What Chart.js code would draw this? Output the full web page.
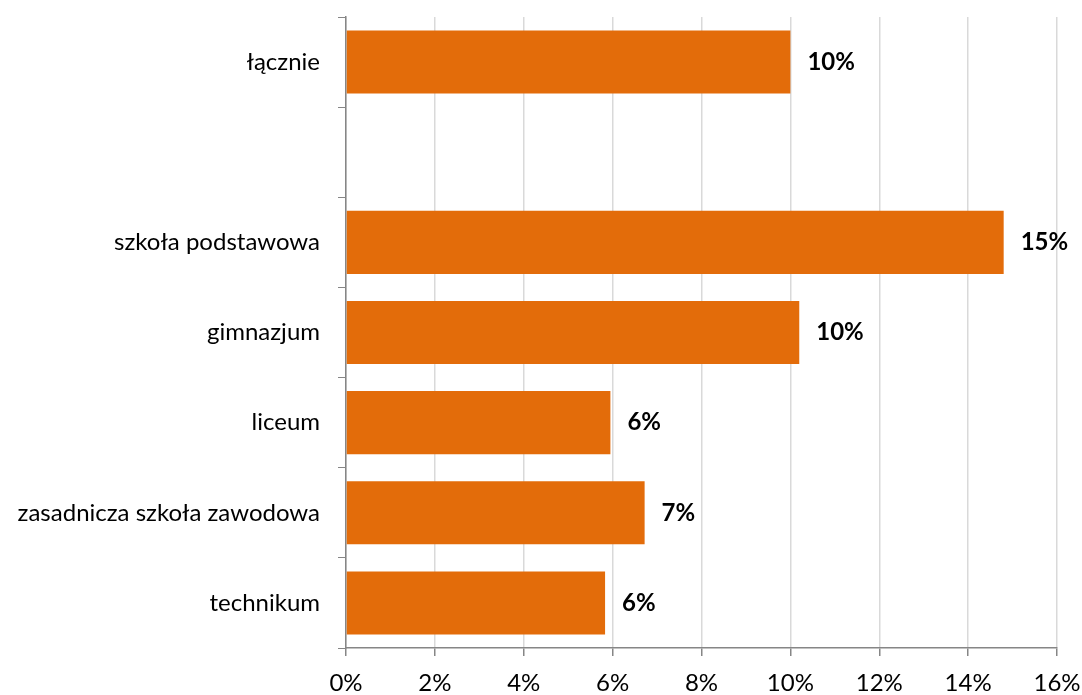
<!DOCTYPE html>
<html lang="pl">
<head>
    <meta charset="UTF-8">
    <title>Udział uczniów wg typu szkoły</title>
    <script src="https://cdn.jsdelivr.net/npm/chart.js@4.4.0/dist/chart.umd.min.js"></script>
    <style>
        html, body { margin: 0; padding: 0; background: #ffffff; }
        #wrap { width: 1082px; height: 695px; }
    </style>
</head>
<body>
    <div id="wrap"><canvas id="chart" width="1082" height="695"></canvas></div>

    <script>
        // categories (empty one is the gap under "łącznie")
        const categories = ['łącznie', '', 'szkoła podstawowa', 'gimnazjum', 'liceum', 'zasadnicza szkoła zawodowa', 'technikum'];
        // values in percent
        const values = [10.0, null, 14.8, 10.2, 5.95, 6.72, 5.83];
        const xTicks = [0, 2, 4, 6, 8, 10, 12, 14, 16];

        const FONT = 'Lato, "Open Sans", sans-serif';
        const axisGray = '#868686';

        // draws the bold value labels to the right of each bar
        const valueLabels = {
            id: 'valueLabels',
            afterDatasetsDraw(chart) {
                const ctx = chart.ctx;
                const meta = chart.getDatasetMeta(0);
                ctx.save();
                ctx.font = 'bold 24px ' + FONT;
                ctx.fillStyle = '#000000';
                ctx.textAlign = 'left';
                ctx.textBaseline = 'middle';
                meta.data.forEach((bar, i) => {
                    const v = values[i];
                    if (v === null) return;
                    ctx.fillText(Math.round(v) + '%', bar.x + 17, bar.y);
                });
                ctx.restore();
            }
        };

        const ctx = document.getElementById('chart').getContext('2d');
        new Chart(ctx, {
            type: 'bar',
            data: {
                labels: categories,
                datasets: [{
                    data: values,
                    backgroundColor: '#e36c0a',
                    borderWidth: 0,
                    barPercentage: 0.7,
                    categoryPercentage: 1.0
                }]
            },
            plugins: [valueLabels],
            options: {
                indexAxis: 'y',
                responsive: false,
                animation: false,
                layout: { padding: { top: 17, right: 25, left: 0, bottom: 0 } },
                plugins: {
                    legend: { display: false },
                    tooltip: { enabled: false }
                },
                scales: {
                    x: {
                        min: 0,
                        max: 16,
                        afterBuildTicks: axis => { axis.ticks = xTicks.map(v => ({ value: v })); },
                        afterFit: axis => {
                            axis.height = 47;
                            axis.paddingLeft = 0;
                            axis.paddingRight = 0;
                        },
                        grid: {
                            color: '#d9d9d9',
                            lineWidth: 1.5,
                            tickColor: axisGray,
                            tickLength: 8
                        },
                        border: { color: axisGray, width: 1.5 },
                        ticks: {
                            color: '#000000',
                            font: { family: FONT, size: 24 },
                            padding: 13,
                            callback: v => v + '%'
                        }
                    },
                    y: {
                        afterFit: axis => {
                            axis.width = 346;
                            axis.paddingTop = 0;
                            axis.paddingBottom = 0;
                        },
                        grid: {
                            offset: true,
                            drawOnChartArea: false,
                            tickColor: axisGray,
                            tickLength: 8
                        },
                        border: { color: axisGray, width: 1.5 },
                        ticks: {
                            color: '#000000',
                            font: { family: FONT, size: 24 },
                            padding: 18
                        }
                    }
                }
            }
        });
    </script>
</body>
</html>
